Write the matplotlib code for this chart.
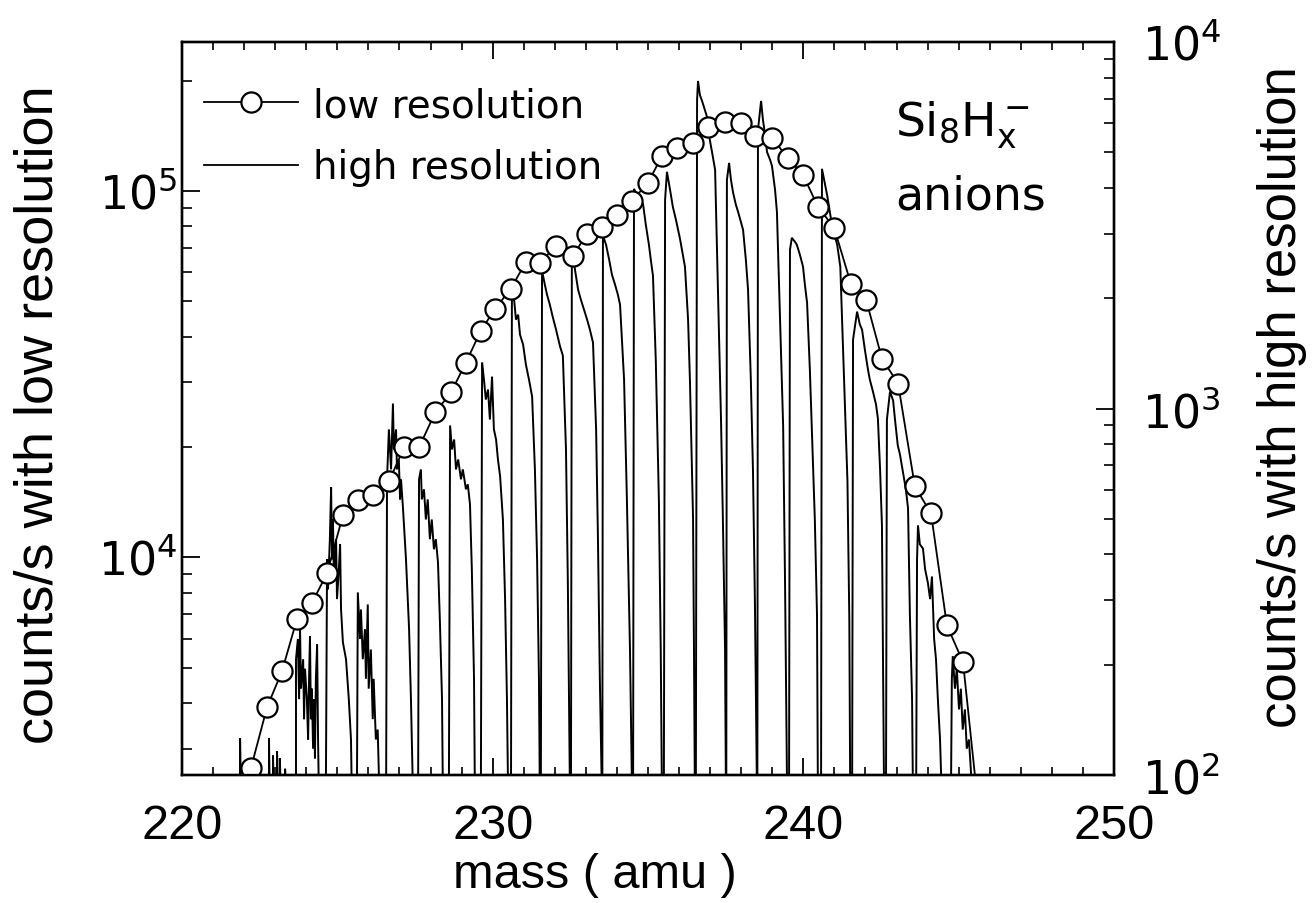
import matplotlib
matplotlib.use('Agg')
import matplotlib.pyplot as plt
from matplotlib import font_manager
from matplotlib.ticker import MultipleLocator, LogLocator, NullFormatter, LogFormatterMathtext
from matplotlib.lines import Line2D

names = {f.name for f in font_manager.fontManager.ttflist}
COND = 'Liberation Sans Narrow' if 'Liberation Sans Narrow' in names else 'Liberation Sans'

# ---------------- data ----------------
# low resolution spectrum (left axis, counts/s)
lr_mass = [222.22, 222.74, 223.22, 223.70, 224.18, 224.67, 225.18, 225.66, 226.15, 226.66,
           227.15, 227.63, 228.15, 228.66, 229.14, 229.62, 230.08, 230.59, 231.07, 231.52,
           232.04, 232.58, 233.04, 233.52, 234.00, 234.48, 235.00, 235.45, 235.93, 236.45,
           236.93, 237.48, 237.99, 238.44, 238.99, 239.50, 239.99, 240.47, 240.99, 241.53,
           242.02, 242.53, 243.05, 243.59, 244.11, 244.62, 245.14, 245.62]
lr_counts = [2661, 3903, 4891, 6779, 7494, 9046, 13014, 14300, 14753, 16111,
             19940, 19940, 24840, 28170, 34000, 41540, 47700, 54080, 64070, 63670,
             70820, 66520, 76350, 79780, 86000, 93940, 105100, 124600, 131000, 135100,
             149400, 154200, 153200, 141200, 139500, 123000, 110600, 90450, 79300, 55800,
             50470, 34850, 29800, 15610, 13180, 6527, 5175, 2123]

# high resolution spectrum (right axis, counts/s); 85 = below the axis floor
hr_mass = [
    221.71, 221.87, 221.87, 221.90, 222.80, 222.80, 222.83, 222.93, 222.93, 222.96,
    223.06, 223.06, 223.09, 223.15, 223.15, 223.19, 223.32, 223.32, 223.35,
    223.67, 223.67, 223.73, 223.77, 223.80, 223.83, 223.90, 223.93, 223.96, 224.02,
    224.06, 224.09, 224.12, 224.15, 224.18, 224.22, 224.25, 224.28, 224.31, 224.35, 224.38, 224.41,
    224.63, 224.67, 224.70, 224.76, 224.80, 224.83, 224.86, 224.89, 224.96, 224.99,
    225.05, 225.09, 225.12, 225.18, 225.28, 225.37, 225.44, 225.47,
    225.63, 225.66, 225.73, 225.76, 225.82, 225.89, 225.92, 225.98, 226.01, 226.08,
    226.14, 226.17, 226.24, 226.30, 226.36,
    226.57, 226.60, 226.66, 226.73, 226.79, 226.82, 226.89, 226.92, 226.98, 227.02,
    227.05, 227.11, 227.21, 227.31, 227.37, 227.44,
    227.60, 227.63, 227.69, 227.72, 227.79, 227.85, 227.91, 227.98, 228.04, 228.11,
    228.17, 228.24, 228.30, 228.37, 228.40,
    228.59, 228.63, 228.69, 228.76, 228.82, 228.89, 228.98, 229.04, 229.14, 229.20,
    229.27, 229.33, 229.40, 229.43,
    229.62, 229.66, 229.72, 229.78, 229.85, 229.91, 229.98, 230.04, 230.11, 230.17,
    230.24, 230.33, 230.40, 230.46, 230.50,
    230.59, 230.62, 230.69, 230.75, 230.82, 230.88, 230.98, 231.07, 231.17, 231.27,
    231.36, 231.43, 231.49, 231.52,
    231.55, 231.59, 231.68, 231.75, 231.84, 231.94, 232.04, 232.17, 232.26, 232.36,
    232.42, 232.49,
    232.52, 232.55, 232.65, 232.75, 232.84, 232.94, 233.04, 233.13, 233.23, 233.33,
    233.39, 233.45, 233.52,
    233.53, 233.55, 233.65, 233.75, 233.84, 233.94, 234.03, 234.10, 234.23, 234.32,
    234.42, 234.49,
    234.52, 234.55, 234.64, 234.74, 234.84, 234.93, 235.03, 235.09, 235.16, 235.25,
    235.35, 235.41, 235.45,
    235.51, 235.55, 235.61, 235.71, 235.80, 235.90, 236.03, 236.12, 236.19, 236.29,
    236.35, 236.45, 236.48, 236.51,
    236.54, 236.58, 236.61, 236.67, 236.74, 236.83, 236.93, 236.99, 237.06, 237.16,
    237.25, 237.35, 237.41, 237.48, 237.51,
    237.52, 237.54, 237.61, 237.67, 237.74, 237.83, 237.90, 237.99, 238.06, 238.15,
    238.22, 238.31, 238.38, 238.44, 238.51,
    238.52, 238.54, 238.64, 238.70, 238.77, 238.83, 238.93, 238.99, 239.09, 239.15,
    239.25, 239.35, 239.41, 239.48,
    239.54, 239.57, 239.63, 239.73, 239.79, 239.89, 239.99, 240.05, 240.12, 240.21,
    240.28, 240.37, 240.44, 240.47,
    240.57, 240.60, 240.70, 240.77, 240.87, 240.93, 241.03, 241.09, 241.19, 241.29,
    241.42, 241.48, 241.51,
    241.57, 241.60, 241.73, 241.82, 241.89, 241.98, 242.08, 242.14, 242.24, 242.34,
    242.40, 242.47, 242.53, 242.60,
    242.66, 242.69, 242.79, 242.89, 242.95, 243.04, 243.11, 243.21, 243.30, 243.37,
    243.43, 243.50, 243.53,
    243.63, 243.66, 243.69, 243.75, 243.85, 243.92, 244.01, 244.08, 244.14, 244.21,
    244.27, 244.33, 244.40, 244.46,
    244.75, 244.78, 244.81, 244.88, 244.94, 245.01, 245.07, 245.13, 245.20, 245.26,
    245.33, 245.39, 245.45,
]
hr_counts = [
    85, 85, 126, 85, 85, 126, 85, 85, 113, 85,
    85, 116, 85, 85, 111, 85, 85, 104, 85,
    85, 207, 235, 161, 253, 172, 207, 142, 195, 161,
    125, 183, 239, 142, 172, 118, 161, 111, 183, 227, 125, 85,
    85, 388, 321, 440, 609, 388, 498, 342, 440, 302,
    364, 426, 283, 230, 207, 161, 125, 85,
    85, 315, 235, 283, 207, 250, 183, 292, 172, 220,
    142, 183, 125, 133, 85,
    85, 641, 877, 682, 1032, 773, 877, 682, 726, 565,
    641, 541, 388, 250, 161, 85,
    85, 641, 682, 565, 602, 498, 565, 440, 498, 413,
    440, 381, 266, 161, 85,
    85, 899, 773, 823, 682, 726, 641, 682, 602, 621,
    548, 364, 183, 85,
    85, 1334, 1199, 1058, 1127, 933, 1222, 877, 823, 726,
    653, 498, 302, 161, 85,
    85, 2136, 1982, 1748, 1804, 1591, 1494, 1318, 1199, 1078,
    682, 388, 183, 85,
    85, 2377, 2177, 2045, 1921, 1770, 1642, 1476, 1394, 773,
    336, 85,
    85, 2780, 2392, 2110, 1982, 1862, 1748, 1642, 1513, 877,
    437, 183, 85,
    85, 2960, 2798, 2547, 2318, 2177, 2045, 1921, 1199, 569,
    220, 85,
    85, 3976, 3829, 3710, 3618, 3172, 2798, 2547, 2303, 1360,
    565, 220, 85,
    85, 3710, 4425, 3951, 3550, 3273, 2905, 2627, 2437, 1748,
    1192, 502, 220, 85,
    85, 6950, 7830, 7170, 6906, 6525, 6130, 5408, 5015, 4480,
    2110, 933, 502, 220, 85,
    85, 4207, 4680, 4207, 3877, 3595, 3440, 3232, 3074, 2547,
    2110, 1199, 669, 302, 85,
    85, 5757, 6906, 6130, 5580, 5015, 4770, 4594, 3951, 3440,
    1748, 894, 342, 85,
    85, 2712, 2923, 2851, 2798, 2627, 2437, 2177, 1945, 1277,
    839, 498, 273, 85,
    85, 4508, 4077, 3805, 3377, 3132, 2923, 2798, 2437, 1360,
    633, 266, 85,
    85, 1542, 1838, 1694, 1642, 1448, 1277, 1199, 1113, 1025,
    939, 682, 480, 85,
    85, 933, 1113, 1051, 933, 793, 749, 669, 602, 534,
    273, 161, 85,
    85, 388, 480, 426, 415, 364, 334, 302, 348, 235,
    207, 161, 125, 85,
    85, 183, 211, 172, 195, 151, 172, 133, 151, 118,
    125, 104, 85,
]

x_ticks = [220, 230, 240, 250]
left_ylim = (2547, 254700)
right_ylim = (100, 10000)
legend_labels = ['low resolution', 'high resolution']

# ---------------- figure ----------------
fig = plt.figure(figsize=(13.12, 9.04), dpi=100)
ax = fig.add_axes([0.1387, 0.1416, 0.7104, 0.8108])
ax2 = ax.twinx()

ax2.plot(hr_mass, hr_counts, color='black', lw=1.4, solid_joinstyle='miter')
ax2.set_yscale('log')
ax2.set_ylim(*right_ylim)

ax.set_zorder(ax2.get_zorder() + 1)
ax.patch.set_visible(False)
ax.plot(lr_mass, lr_counts, '-o', color='black', lw=1.3, ms=14.5,
        mfc='white', mec='black', mew=1.6)
ax.set_yscale('log')
ax.set_ylim(*left_ylim)
ax.set_xlim(220, 250)

ax.xaxis.set_major_locator(MultipleLocator(10))
ax.xaxis.set_minor_locator(MultipleLocator(1))
ax.set_xticks(x_ticks)

for a in (ax, ax2):
    a.yaxis.set_major_locator(LogLocator(base=10))
    a.yaxis.set_minor_locator(LogLocator(base=10, subs=range(2, 10)))
    a.yaxis.set_minor_formatter(NullFormatter())
    a.yaxis.set_major_formatter(LogFormatterMathtext())
    for s in a.spines.values():
        s.set_linewidth(1.7)

ax.tick_params(axis='x', which='major', direction='in', length=12, width=1.3,
               top=True, labelsize=35, pad=20, labelfontfamily=COND)
ax.tick_params(axis='x', which='minor', direction='in', length=6, width=1.2, top=True)
ax.tick_params(axis='y', which='major', direction='in', length=13, width=1.3,
               right=False, labelsize=33, pad=3)
ax.tick_params(axis='y', which='minor', direction='in', length=7, width=1.2, right=False)
ax2.tick_params(axis='y', which='major', direction='in', length=13, width=1.3,
                left=False, labelsize=33, pad=20)
ax2.tick_params(axis='y', which='minor', direction='in', length=7, width=1.2, left=False)

ax.set_xlabel('mass ( amu )', fontsize=35, family=COND)
ax.xaxis.set_label_coords(0.443, -0.105)
ax.set_ylabel('counts/s with low resolution', fontsize=39, family=COND)
ax.yaxis.set_label_coords(-0.127, 0.4925)
ax2.set_ylabel('counts/s with high resolution', fontsize=38, family=COND)
ax2.yaxis.set_label_coords(1.153, 0.517)

h_low = Line2D([], [], color='black', lw=1.3, marker='o', ms=14.5, mfc='white', mec='black', mew=1.6)
h_high = Line2D([], [], color='black', lw=1.3)
ax.legend([h_low, h_high], legend_labels, loc='upper left', bbox_to_anchor=(0.024, 0.94),
          frameon=False, fontsize=28, handlelength=2.4, handletextpad=0.4,
          labelspacing=0.62, borderpad=0, borderaxespad=0)

ax.text(0.765, 0.888, r'$\mathregular{Si_8H_x^-}$', transform=ax.transAxes,
        fontsize=34, ha='left', va='center')
ax.text(0.765, 0.79, 'anions', transform=ax.transAxes,
        fontsize=33, ha='left', va='center')

fig.savefig('out.png', dpi=100)
